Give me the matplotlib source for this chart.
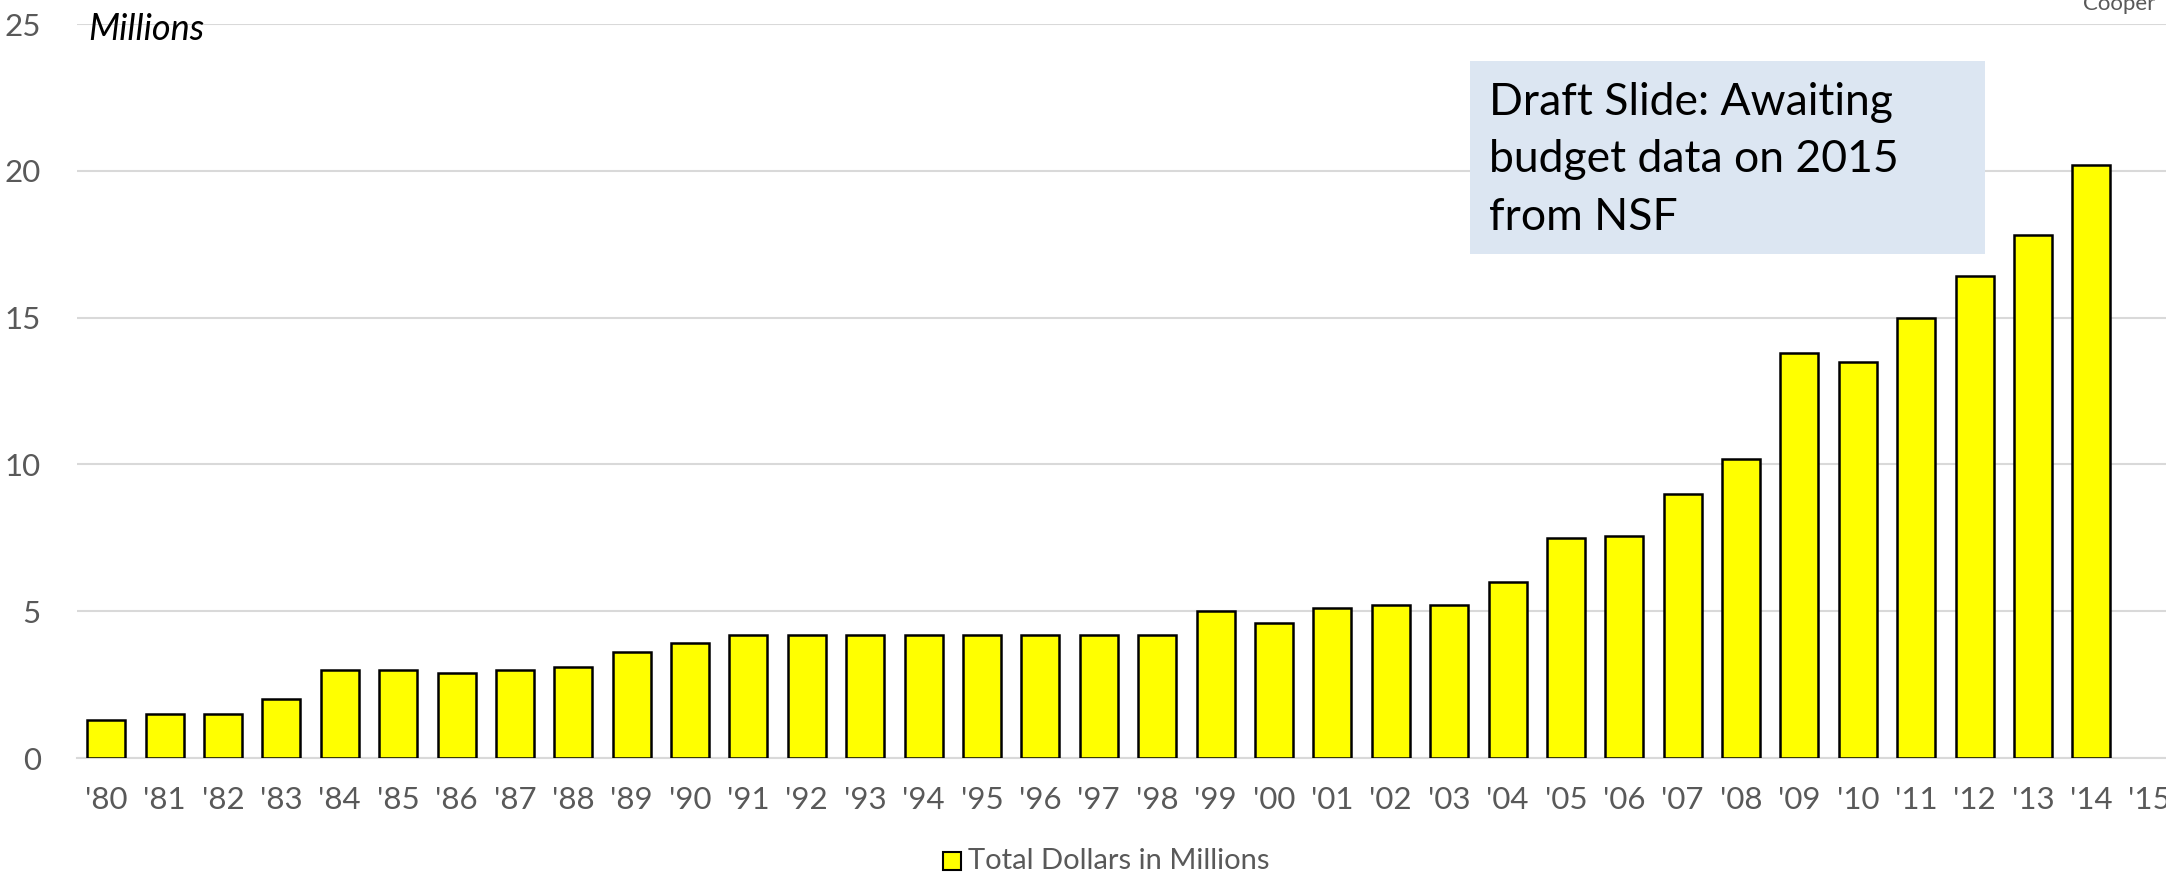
import matplotlib
matplotlib.use('Agg')
import matplotlib.pyplot as plt
from matplotlib.patches import Rectangle
import numpy as np

years = ["'80", "'81", "'82", "'83", "'84", "'85", "'86", "'87", "'88", "'89",
         "'90", "'91", "'92", "'93", "'94", "'95", "'96", "'97", "'98", "'99",
         "'00", "'01", "'02", "'03", "'04", "'05", "'06", "'07", "'08", "'09",
         "'10", "'11", "'12", "'13", "'14", "'15"]
dollars = [1.3, 1.5, 1.5, 2.0, 3.0, 3.0, 2.9, 3.0, 3.1, 3.6,
           3.9, 4.2, 4.2, 4.2, 4.2, 4.2, 4.2, 4.2, 4.2, 5.0,
           4.6, 5.1, 5.2, 5.2, 6.0, 7.5, 7.55, 9.0, 10.2, 13.8,
           13.5, 15.0, 16.4, 17.8, 20.2]
yticks = [0, 5, 10, 15, 20, 25]

plt.rcParams['font.family'] = ['Lato', 'DejaVu Sans']

W, H = 2166, 875
fig = plt.figure(figsize=(W / 100, H / 100), dpi=100)

# axes in pixel coords: left 77, right 2179 (cropped), top 24, bottom 758
left, right, top, bottom = 77, 2179, 24, 758
ax = fig.add_axes([left / W, 1 - bottom / H, (right - left) / W, (bottom - top) / H])

x = np.arange(len(years))
ax.bar(x[:len(dollars)], dollars, width=0.65, color='#FFFF00',
       edgecolor='black', linewidth=1.8, zorder=3)

ax.set_xlim(-0.5, len(years) - 0.5)
ax.set_ylim(0, 25)
ax.set_yticks(yticks)
ax.set_xticks(x)
ax.set_xticklabels(years)
ax.yaxis.grid(True, color='#D9D9D9', linewidth=1.5, zorder=0)
ax.set_axisbelow(True)
for s in ['top', 'right', 'left']:
    ax.spines[s].set_visible(False)
ax.spines['bottom'].set_color('#D9D9D9')
ax.spines['bottom'].set_linewidth(1.5)
ax.tick_params(axis='both', length=0, labelsize=22.5, colors='#595959')
ax.tick_params(axis='x', pad=20)
ax.tick_params(axis='y', pad=26)

fig.text(88 / W, 1 - 30 / H, 'Millions', fontsize=26, style='italic',
         color='black', va='center', ha='left')

# draft note box
bx0, by0, bx1, by1 = 1470, 61, 1985, 254
fig.patches.append(Rectangle((bx0 / W, 1 - by1 / H), (bx1 - bx0) / W, (by1 - by0) / H,
                             transform=fig.transFigure, facecolor='#DCE6F2',
                             edgecolor='none', zorder=5))
fig.text(1489 / W, 1 - 82 / H, 'Draft Slide: Awaiting\nbudget data on 2015\nfrom NSF',
         fontsize=32, color='black', va='top', ha='left', linespacing=1.5, zorder=6)

# cropped text in the top right corner
fig.text(2083 / W, 1 - 4 / H, 'Cooper', fontsize=16, color='#595959', va='center', ha='left')

# legend
fig.patches.append(Rectangle((943 / W, 1 - 870 / H), 18 / W, 18 / H,
                             transform=fig.transFigure, facecolor='#FFFF00',
                             edgecolor='black', linewidth=1.5))
fig.text(968 / W, 1 - 861 / H, 'Total Dollars in Millions', fontsize=21,
         color='#595959', va='center', ha='left')

fig.savefig('out.png', dpi=100)
